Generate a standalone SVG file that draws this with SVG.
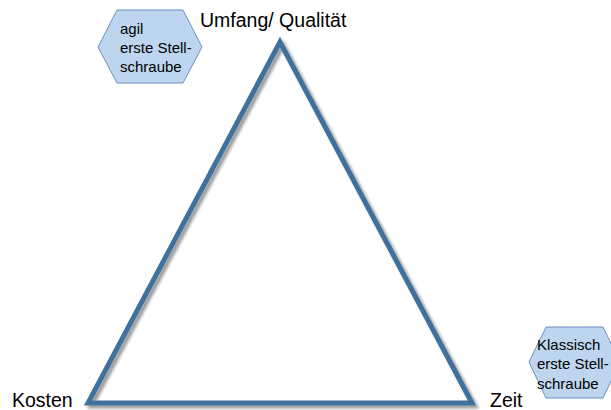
<svg xmlns="http://www.w3.org/2000/svg" width="611" height="410" viewBox="0 0 611 410">
<style>
.lbl{font-family:"Liberation Sans",Arial,sans-serif;fill:#000}
.big{font-size:19.5px}
.small{font-size:15px}
.hex{fill:#BDD5EE;stroke:#6C90C2;stroke-width:1}
.tri{fill:none;stroke:#41719C;stroke-width:5;stroke-linejoin:miter}
</style>
<defs>
<filter id="sh" x="-10%" y="-10%" width="120%" height="120%">
<feGaussianBlur in="SourceAlpha" stdDeviation="1.5"/>
<feOffset dx="2.5" dy="2.5" result="b"/>
<feComponentTransfer><feFuncA type="linear" slope="0.4"/></feComponentTransfer>
<feMerge><feMergeNode/><feMergeNode in="SourceGraphic"/></feMerge>
</filter>
</defs>
<g id="connectors">
<polygon id="triangle" class="tri" filter="url(#sh)" points="280,42 88,403 472,403"/>
</g>
<g id="umfang"><text class="lbl big" x="200" y="27">Umfang/ Qualität</text></g>
<g id="kosten"><text class="lbl big" x="12" y="407">Kosten</text></g>
<g id="zeit"><text class="lbl big" x="490" y="407">Zeit</text></g>
<g id="agil">
<polygon class="hex" points="98,47 117,10 183,10 202,47 183,83 117,83"/>
<text class="lbl small" x="120" y="34">agil</text>
<text class="lbl small" x="120" y="53">erste Stell-</text>
<text class="lbl small" x="120" y="72">schraube</text>
</g>
<g id="klassisch">
<polygon class="hex" points="529,362 546,327 603,327 620,362 603,398 546,398"/>
<text class="lbl small" x="537" y="350">Klassisch</text>
<text class="lbl small" x="537" y="369">erste Stell-</text>
<text class="lbl small" x="537" y="389">schraube</text>
</g>
</svg>
